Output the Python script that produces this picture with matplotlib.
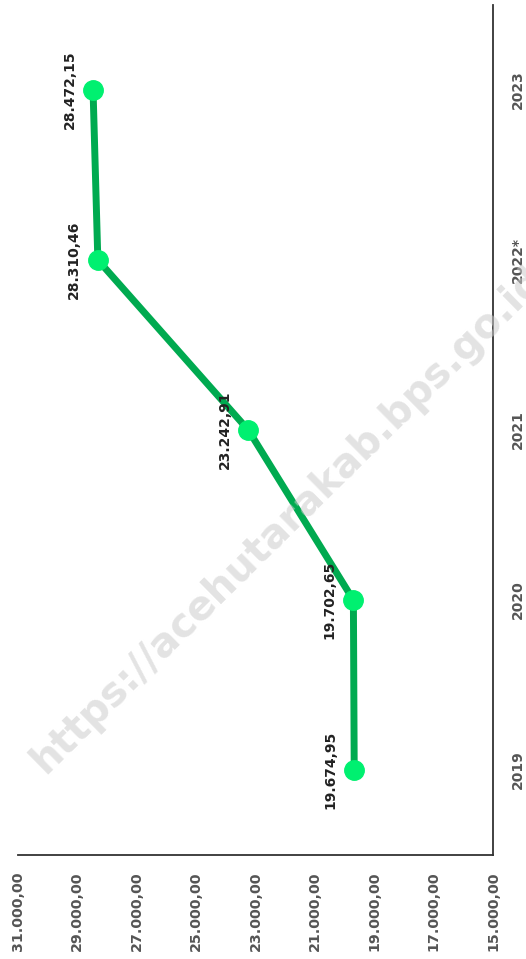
import matplotlib
matplotlib.use("Agg")
import matplotlib.pyplot as plt

years = ["2019", "2020", "2021", "2022*", "2023"]
values = [19674.95, 19702.65, 23242.91, 28310.46, 28472.15]
value_labels = ["19.674,95", "19.702,65", "23.242,91", "28.310,46", "28.472,15"]
tick_values = [31000, 29000, 27000, 25000, 23000, 21000, 19000, 17000, 15000]
tick_labels = ["31.000,00", "29.000,00", "27.000,00", "25.000,00", "23.000,00",
               "21.000,00", "19.000,00", "17.000,00", "15.000,00"]

W, H = 526, 959
fig = plt.figure(figsize=(W / 100, H / 100), dpi=100)
ax = fig.add_axes([18 / W, (H - 855) / H, (493 - 18) / W, (855 - 5) / H])

pos = list(range(len(years)))
ax.plot(values, pos, color="#00aa50", lw=5, zorder=2, solid_capstyle="butt")
ax.plot(values, pos, ls="none", marker="o", ms=14, color="#00f070", zorder=3)

for v, p, lab in zip(values, pos, value_labels):
    ax.annotate(lab, (v, p), xytext=(-17, 0), textcoords="offset points",
                rotation=90, ha="center", va="center", fontsize=10,
                fontweight="bold", color="#222222", zorder=4)

ax.set_xlim(31000, 15000)
ax.set_ylim(-0.5, len(years) - 0.5)
ax.set_xticks(tick_values)
ax.set_xticklabels(tick_labels, rotation=90, fontsize=10.3, fontweight="bold",
                   color="#555555")
ax.set_yticks(pos)
ax.set_yticklabels(years, rotation=90, va="center", fontsize=10,
                   fontweight="bold", color="#555555")
ax.yaxis.tick_right()
ax.tick_params(axis="x", length=0, pad=12)
ax.tick_params(axis="y", length=0, pad=13)

for s in ["top", "left"]:
    ax.spines[s].set_visible(False)
for s in ["right", "bottom"]:
    ax.spines[s].set_color("#333333")
    ax.spines[s].set_linewidth(1.3)

# watermark
fig.text(0.548, 0.458, "https://acehutarakab.bps.go.id", rotation=44.6,
         ha="center", va="center", fontsize=29, fontweight="bold",
         color="#cccccc", alpha=0.55, zorder=10)

fig.savefig("out.png", dpi=100)
